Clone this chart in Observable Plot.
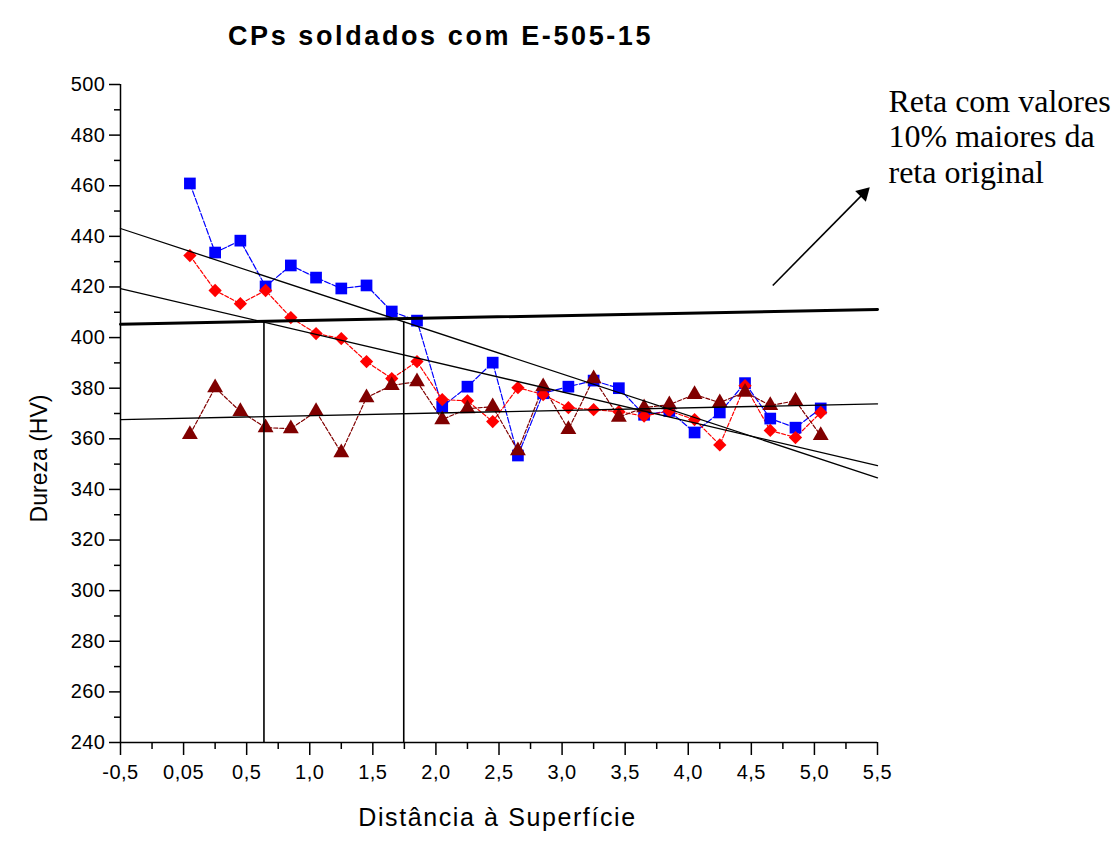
<!DOCTYPE html>
<html>
<head>
<meta charset="utf-8">
<script src="https://cdn.jsdelivr.net/npm/d3@7"></script>
<script src="https://cdn.jsdelivr.net/npm/@observablehq/plot@0.6"></script>
<style>
  html, body { margin: 0; padding: 0; background: #fff; }
  #chart { width: 1115px; height: 841px; }
</style>
</head>
<body>
<div id="chart"></div>
<script>
// ---- Data ----
const distancia = [0.05, 0.25, 0.45, 0.65, 0.85, 1.05, 1.25, 1.45, 1.65, 1.85, 2.05, 2.25, 2.45,
                   2.65, 2.85, 3.05, 3.25, 3.45, 3.65, 3.85, 4.05, 4.25, 4.45, 4.65, 4.85, 5.05];
const serieAzul = [460.9, 433.6, 438.3, 420.2, 428.5, 423.7, 419.4, 420.6, 410.3, 406.7, 372.7, 380.6, 390.1,
                   353.4, 378.0, 380.6, 383.0, 380.0, 369.5, 371.0, 362.5, 370.4, 382.0, 368.0, 364.4, 372.0];
const serieVermelha = [432.4, 418.6, 413.4, 418.6, 407.9, 401.6, 399.6, 390.5, 383.8, 390.5, 375.5, 375.0, 366.8,
                       380.2, 377.5, 372.3, 371.5, 370.7, 369.0, 371.0, 367.6, 357.6, 381.0, 363.3, 360.5, 370.4];
const serieEscura = [361.7, 380.2, 370.8, 364.4, 364.0, 370.8, 354.5, 376.3, 381.1, 382.6, 367.6, 371.9, 372.7,
                     355.3, 380.6, 363.7, 383.8, 368.6, 372.3, 373.5, 377.5, 374.3, 378.4, 373.2, 375.0, 361.3];

// fitted straight lines (values at x = -0.5 and x = 5.5)
const retaX = [-0.5, 5.5];
const retaAzul = [443.1, 344.6];
const retaVermelha = [419.3, 349.4];
const retaEscura = [367.6, 373.8];
const retaMaior10 = [405.3, 411.1];   // line 10% higher than original
// vertical guide lines (intersections)
const verticaisX = [0.637, 1.745];
const verticaisTopo = [406.1, 406.3];

// ticks
const xTicks = [-0.5, 0, 0.5, 1.0, 1.5, 2.0, 2.5, 3.0, 3.5, 4.0, 4.5, 5.0, 5.5];
const xTickLabels = ["-0,5", "0,05", "0,5", "1,0", "1,5", "2,0", "2,5", "3,0", "3,5", "4,0", "4,5", "5,0", "5,5"];
const xMinor = [-0.25, 0.25, 0.75, 1.25, 1.75, 2.25, 2.75, 3.25, 3.75, 4.25, 4.75, 5.25];
const yTicks = [240, 260, 280, 300, 320, 340, 360, 380, 400, 420, 440, 460, 480, 500];
const yMinor = [250, 270, 290, 310, 330, 350, 370, 390, 410, 430, 450, 470, 490];

const titulo = "CPs soldados com E-505-15";
const rotuloX = "Distância à Superfície";
const rotuloY = "Dureza (HV)";
const anotacao = "Reta com valores\n10% maiores da\nreta original";
// annotation arrow (tail -> head), in data units
const setaX = [4.67, 5.39];
const setaY = [420.6, 457.0];

// ---- build tables ----
const pts = (ys) => distancia.map((x, i) => ({x, y: ys[i]}));
const reta = (ys) => retaX.map((x, i) => ({x, y: ys[i]}));
const verticais = verticaisX.map((x, i) => ({x, top: verticaisTopo[i]}));
const fmtX = (d) => {
  const i = xTicks.findIndex(t => Math.abs(t - d) < 1e-6);
  return i >= 0 ? xTickLabels[i] : "";
};

const azul = "#0000ff", vermelho = "#ff0000", escuro = "#800000";

const chart = Plot.plot({
  width: 1115,
  height: 841,
  marginLeft: 120,
  marginRight: 238,
  marginTop: 84,
  marginBottom: 99,
  style: {fontFamily: "'Liberation Sans', Arial, sans-serif", fontSize: "20px", background: "#fff", color: "#000", overflow: "visible"},
  x: {domain: [-0.5, 5.5]},
  y: {domain: [240, 500]},
  marks: [
    // axes
    Plot.axisY({ticks: yTicks, tickSize: 11, tickPadding: 4, label: null, fontSize: 20, strokeWidth: 1.5}),
    Plot.axisY({ticks: yMinor, tickSize: 6, tickFormat: () => "", label: null, strokeWidth: 1.5}),
    Plot.axisX({ticks: xTicks, tickSize: 13, tickPadding: 9, tickFormat: fmtX, label: null, fontSize: 20, strokeWidth: 1.5}),
    Plot.axisX({ticks: xMinor, tickSize: 7, tickFormat: () => "", label: null, strokeWidth: 1.5}),
    Plot.ruleX([-0.5], {stroke: "#000", strokeWidth: 1.5}),
    Plot.ruleY([240], {stroke: "#000", strokeWidth: 1.5}),

    // series connecting lines
    Plot.line(pts(serieAzul), {x: "x", y: "y", stroke: azul, strokeWidth: 1.2, strokeDasharray: "6,2"}),
    Plot.line(pts(serieVermelha), {x: "x", y: "y", stroke: vermelho, strokeWidth: 1.2, strokeDasharray: "4,2"}),
    Plot.line(pts(serieEscura), {x: "x", y: "y", stroke: escuro, strokeWidth: 1.2, strokeDasharray: "4,2"}),

    // markers
    Plot.dot(pts(serieAzul), {x: "x", y: "y", symbol: "square", r: 6.6, fill: azul, stroke: "none"}),
    Plot.dot(pts(serieVermelha), {x: "x", y: "y", symbol: "square", rotate: 45, r: 5.3, fill: vermelho, stroke: "none"}),
    Plot.dot(pts(serieEscura), {x: "x", y: "y", symbol: "triangle", r: 5.9, fill: escuro, stroke: "none"}),

    // fitted lines
    Plot.line(reta(retaAzul), {x: "x", y: "y", stroke: "#000", strokeWidth: 1.3}),
    Plot.line(reta(retaVermelha), {x: "x", y: "y", stroke: "#000", strokeWidth: 1.3}),
    Plot.line(reta(retaEscura), {x: "x", y: "y", stroke: "#000", strokeWidth: 1.3}),
    Plot.line(reta(retaMaior10), {x: "x", y: "y", stroke: "#000", strokeWidth: 3}),
    Plot.ruleX(verticais, {x: "x", y1: 240, y2: "top", stroke: "#000", strokeWidth: 1.6}),

    // annotation arrow
    Plot.link([0], {x1: setaX[0], y1: setaY[0], x2: setaX[1], y2: setaY[1], stroke: "#000", strokeWidth: 1.6}),
    Plot.dot([0], {x: setaX[1], y: setaY[1], symbol: "triangle", rotate: 45, r: 5.6, fill: "#000", stroke: "none"}),

    // texts
    Plot.text([titulo], {frameAnchor: "top-left", dx: 320, dy: -59, text: d => d, textAnchor: "middle",
      fontSize: 27, fontWeight: "bold", fill: "#000"}),
    Plot.text([rotuloX], {frameAnchor: "bottom-left", dx: 377, dy: 83, text: d => d, textAnchor: "middle",
      fontSize: 25, fill: "#000"}),
    Plot.text([rotuloY], {frameAnchor: "top-left", dx: -90, dy: 374, text: d => d, textAnchor: "middle",
      rotate: -90, fontSize: 23, fill: "#000"}),
    Plot.text([anotacao], {frameAnchor: "top-left", dx: 768, dy: 2, text: d => d, textAnchor: "start",
      lineAnchor: "top", lineHeight: 1.11, fontSize: 32, fontFamily: "'Liberation Serif', 'Times New Roman', serif", fill: "#000"})
  ]
});
// letter spacing (Plot's text mark has no option for it)
const espacamento = new Map([[titulo, "2.6px"], [rotuloX, "1.6px"]]);
d3.select(chart).selectAll("text").each(function () {
  const t = this.textContent;
  if (espacamento.has(t)) this.style.letterSpacing = espacamento.get(t);
  else if (xTickLabels.includes(t) || yTicks.map(String).includes(t)) this.style.letterSpacing = "0.5px";
});
document.getElementById("chart").appendChild(chart);
</script>
</body>
</html>
